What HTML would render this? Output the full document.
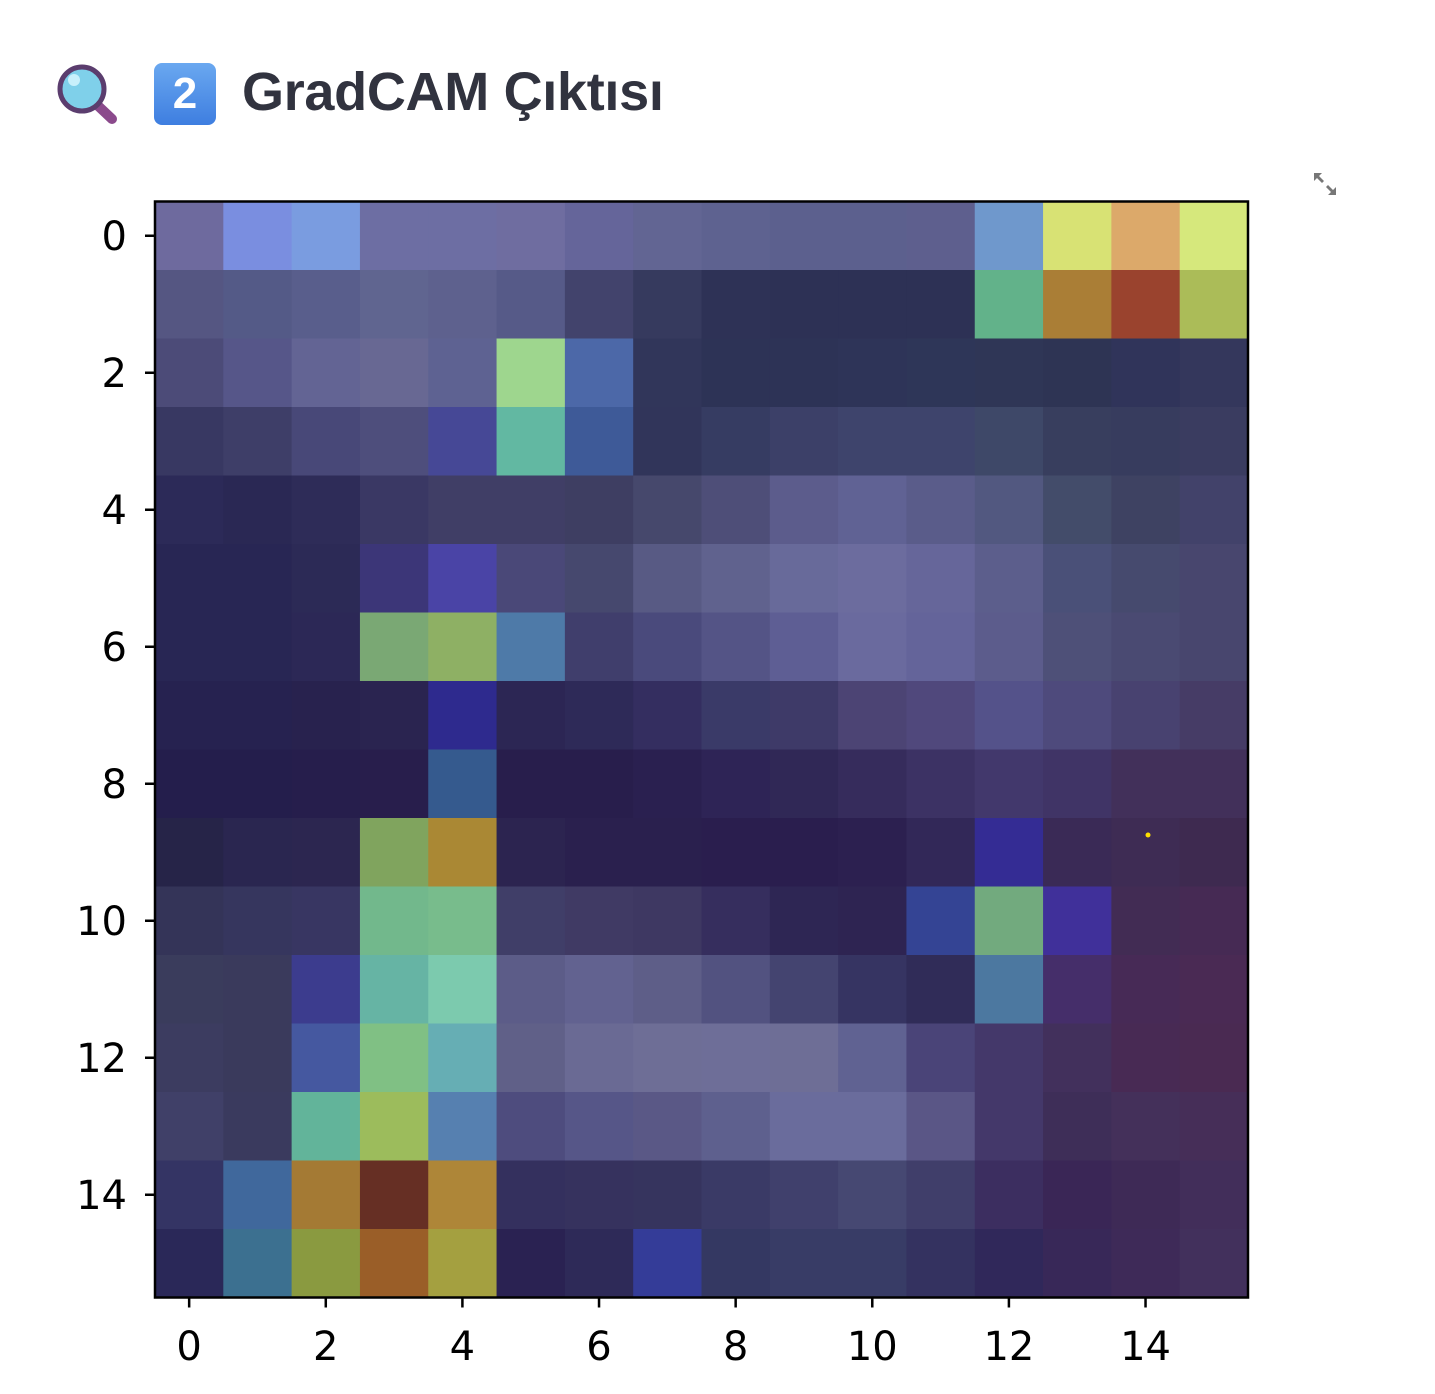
<!DOCTYPE html>
<html><head><meta charset="utf-8"><style>
body{margin:0;background:#fff;width:1435px;height:1394px;overflow:hidden;position:relative;font-family:"Liberation Sans","DejaVu Sans",sans-serif}
#title{position:absolute;left:242px;top:61px;font-size:54px;font-weight:bold;color:#31333f;letter-spacing:-0.3px}
</style></head><body>
<svg style="position:absolute;left:54px;top:62px" width="66" height="64" viewBox="0 0 66 64">
<line x1="40" y1="40" x2="58" y2="57" stroke="#8b4a8c" stroke-width="10" stroke-linecap="round"/>
<circle cx="28" cy="27" r="22" fill="#7fd0ea" stroke="#5b3d6e" stroke-width="5"/>
<circle cx="20" cy="18" r="6" fill="#c8f0fb"/>
</svg>
<div style="position:absolute;left:154px;top:63px;width:62px;height:62px;border-radius:8px;background:linear-gradient(#6aa8f0,#3e7ee0);color:#fff;font-weight:bold;font-size:44px;text-align:center;line-height:62px">2</div>
<div id="title">GradCAM Çıktısı</div>
<svg style="position:absolute;left:1312px;top:171px" width="26" height="26" viewBox="0 0 26 26">
<path d="M2 2h8l-3 3 5 5-2 2-5-5-3 3z M24 24h-8l3-3-5-5 2-2 5 5 3-3z" fill="#777"/>
</svg>
<svg id="chart" style="position:absolute;left:0;top:0" width="1435" height="1394"></svg>
<script>
const rows = [
["#6e6a9e","#7a8ee0","#7a9ce0","#6d6ea3","#6d6ea3","#6f6da0","#65659a","#626593","#5e6290","#5c608e","#5c608e","#5e5f8e","#6f98cc","#d8e274","#dca96a","#d6e87c"],
["#555682","#545a87","#595e8c","#606590","#5e618e","#565a88","#42436c","#363a5e","#2e3256","#2d3155","#2d3155","#2d3155","#62b28a","#aa7e36","#9a432e","#abbc58"],
["#4c4b78","#565689","#636494","#686893","#5e6292","#9ed68e","#4c68a8","#31365a","#2d3356","#2d3356","#2e3458","#2e3658","#2f3656","#2e3454","#30345a","#34375c"],
["#383862","#3e3e68","#484878","#4e4e7c","#464896","#62b8a2","#3e5a98","#31355a","#363c62","#3c4068","#3e446c","#3e446c","#3e4868","#383e5e","#373c5e","#3a3c60"],
["#2c2a58","#2a2854","#2e2c58","#3a3864","#403e66","#403e66","#3e3e62","#46486c","#4e4e78","#5c5c8c","#606294","#5a5c8a","#525880","#434c6a","#3e4262","#42426a"],
["#282654","#282654","#2c2a56","#3c3678","#4a44a6","#4a4878","#46486e","#585a84","#60628e","#686a9a","#6c6c9e","#66669a","#5c5e8c","#4a5078","#464a6e","#48466e"],
["#282654","#282654","#2c2856","#7aa874","#8eb064","#4e7aa8","#403e6c","#4a4a7c","#545486","#5e5e94","#6a6a9e","#64649a","#5c5c8c","#4e5078","#4a4a72","#48466e"],
["#262250","#262250","#28224e","#2a2450","#2e2a8e","#2c2654","#2e2a58","#342e60","#3a3a68","#3e3a68","#4c4474","#50487c","#54528a","#4e4a7c","#484270","#463c66"],
["#241e4c","#241e4c","#261e4c","#281e4c","#355a8e","#281e4c","#281e4c","#2a2050","#2e2456","#302856","#362c5c","#3c3264","#42386c","#403466","#42305a","#42305a"],
["#262448","#2a2650","#2c2650","#80a45e","#aa8834","#2c2450","#2a204e","#2a204e","#2a1e4e","#2a1e4e","#2c2050","#322858","#342c94","#3a2a56","#3e2c54","#3e2a50"],
["#343458","#36365e","#383662","#72b88c","#78bc8c","#403e68","#403a64","#3e3862","#362e5e","#2e2654","#2e2452","#344494","#72aa7e","#40309a","#422c54","#462a54"],
["#3a3c5c","#3a3a5c","#3c3c8e","#66b4a4","#7ccaae","#5c5c88","#626290","#5e5e88","#525280","#444470","#363462","#302c58","#4c78a0","#452e6a","#472a56","#4a2a54"],
["#3c3c60","#3a3a5c","#4558a0","#80c084","#66aeb4","#606088","#6a6a94","#6e6e96","#6e6e98","#6e6e96","#606292","#4a4478","#44386a","#42305c","#482a54","#4a2a52"],
["#404068","#3a3a5e","#62b49a","#9cbc5c","#5680b0","#4e4c7e","#565688","#5a5886","#5e608e","#6a6c9c","#6a6c9c","#5a5686","#44386a","#3e2e58","#44305a","#462e58"],
["#343464","#40689c","#a47a34","#662f24","#ae8638","#34305e","#36325e","#36345e","#3a3a66","#40406c","#464872","#403e6a","#3c2e60","#3a2656","#3e2a56","#422e5a"],
["#2a2858","#3c7090","#8a9a40","#9a5e28","#a4a040","#2a2252","#2e2a58","#343c98","#343862","#383c66","#383c66","#343260","#30285a","#382858","#3e2a58","#42305c"]
];
const xTicks = [0,2,4,6,8,10,12,14];
const yTicks = [0,2,4,6,8,10,12,14];
const NS="http://www.w3.org/2000/svg";
const svg=document.getElementById('chart');
const L=155,T=201.5,W=1093,H=1096,n=16;
const cw=W/n,ch=H/n;
const sx=i=>L+(i+0.5)*cw, sy=j=>T+(j+0.5)*ch;
function mk(t,a){const e=document.createElementNS(NS,t);for(const k in a)e.setAttribute(k,a[k]);svg.appendChild(e);return e;}
rows.forEach((r,j)=>r.forEach((c,i)=>{
 const e=mk('rect',{x:L+i*cw,y:T+j*ch,width:cw+0.6,height:ch+0.6,fill:c});
 
 
}));
const fr=mk('rect',{x:L,y:T,width:W,height:H,fill:'none',stroke:'#000','stroke-width':2.5});


const dot=mk('circle',{cx:1148,cy:835,r:2.5,fill:'#ffe000'});


xTicks.forEach(v=>{
 mk('line',{x1:sx(v),x2:sx(v),y1:T+H,y2:T+H+10,stroke:'#000','stroke-width':2.5});
 const t=mk('text',{x:sx(v),y:1360,'text-anchor':'middle','font-size':40,'font-family':'DejaVu Sans, sans-serif',fill:'#000'});
 t.textContent=v;
 
 
});
yTicks.forEach(v=>{
 mk('line',{x1:L-10,x2:L,y1:sy(v),y2:sy(v),stroke:'#000','stroke-width':2.5});
 const t=mk('text',{x:127,y:sy(v)+14,'text-anchor':'end','font-size':40,'font-family':'DejaVu Sans, sans-serif',fill:'#000'});
 t.textContent=v;
 
 
});
</script>
</body></html>
